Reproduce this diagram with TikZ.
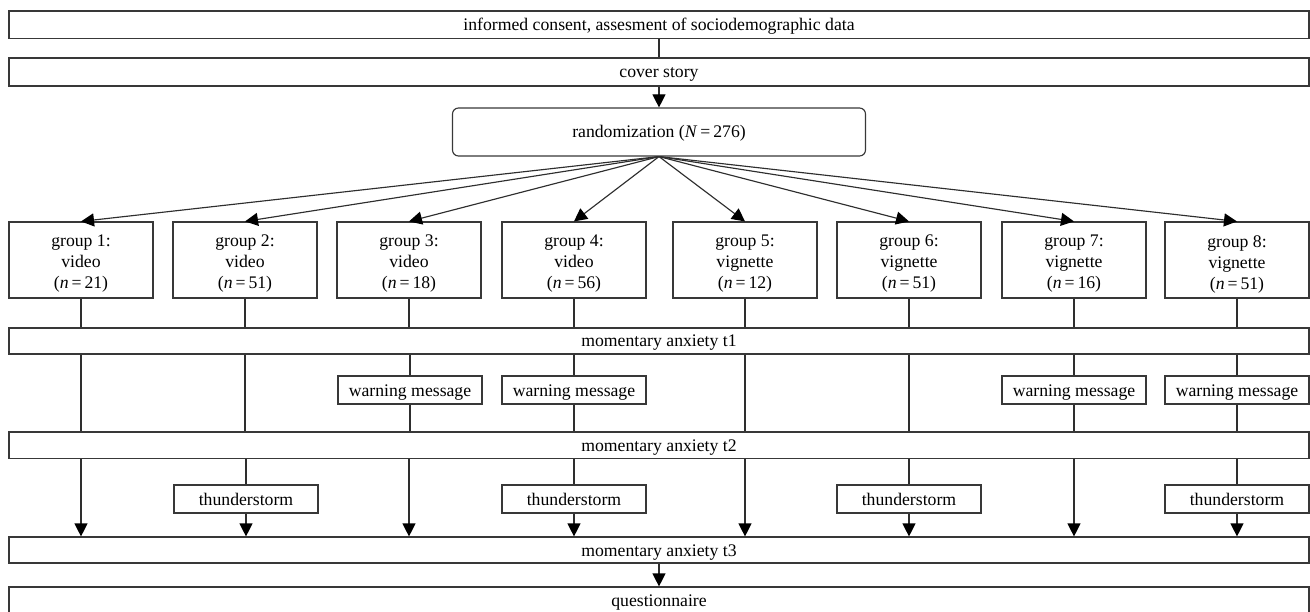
\documentclass[tikz,border=0pt]{standalone}
\usepackage{fontspec}
\setmainfont{Liberation Serif}
\usetikzlibrary{arrows.meta}
\begin{document}
\begin{tikzpicture}[x=1pt,y=-1pt,
  every node/.style={font=\fontsize{17.7}{21}\selectfont, text=black},
  box/.style={draw=black!78, line width=1.15pt, rectangle, inner sep=0pt, align=center, text height=12pt, text depth=0pt},
  bar/.style={box, minimum width=1300pt},
  grp/.style={draw=black!78, line width=1.15pt, rectangle, inner sep=0pt, minimum width=144pt, minimum height=76pt},
  gl/.style={align=center, inner sep=0pt, yshift=-4pt},
  sub/.style={box, minimum width=144pt, minimum height=28pt},
  conn/.style={draw=black!82, line width=1.15pt},
  arr/.style={conn, -{Triangle[width=13pt,length=13pt,color=black]}}]
\useasboundingbox (0,0) rectangle (1310,612);

\node[bar, minimum height=27.7pt] (top) at (659,24.85) {informed consent, assesment of sociodemographic data};
\node[bar, minimum height=28pt] (cover) at (659,72) {cover story};
\node[box, minimum width=413pt, minimum height=48pt, rounded corners=6pt] (rand) at (659,132) {randomization (\textit{N}\,=\,276)};

\node[grp, label={[gl]center:{group 1:\\video\\(\textit{n}\,=\,21)}}] (g1) at (81,260) {};
\node[grp, label={[gl]center:{group 2:\\video\\(\textit{n}\,=\,51)}}] (g2) at (245,260) {};
\node[grp, label={[gl]center:{group 3:\\video\\(\textit{n}\,=\,18)}}] (g3) at (409,260) {};
\node[grp, label={[gl]center:{group 4:\\video\\(\textit{n}\,=\,56)}}] (g4) at (574,260) {};
\node[grp, label={[gl]center:{group 5:\\vignette\\(\textit{n}\,=\,12)}}] (g5) at (745,260) {};
\node[grp, label={[gl]center:{group 6:\\vignette\\(\textit{n}\,=\,51)}}] (g6) at (909,260) {};
\node[grp, label={[gl]center:{group 7:\\vignette\\(\textit{n}\,=\,16)}}] (g7) at (1074,260) {};
\node[grp, label={[gl]center:{group 8:\\vignette\\(\textit{n}\,=\,51)}}] (g8) at (1237,260) {};

\node[bar, minimum height=26pt] (t1) at (659,341) {momentary anxiety t1};
\node[bar, minimum height=26.5pt] (t2) at (659,445.25) {momentary anxiety t2};
\node[bar, minimum height=26pt] (t3) at (659,550) {momentary anxiety t3};
\node[bar, minimum height=26pt] (q) at (659,600) {questionnaire};

\node[sub] (w3) at (410,390) {warning message};
\node[sub] (w4) at (574,390) {warning message};
\node[sub] (w7) at (1074,390) {warning message};
\node[sub] (w8) at (1237,390) {warning message};

\node[sub] (s2) at (246,499) {thunderstorm};
\node[sub] (s4) at (574,499) {thunderstorm};
\node[sub] (s6) at (909,499) {thunderstorm};
\node[sub] (s8) at (1237,499) {thunderstorm};

\draw[conn] (top.south) -- (cover.north);
\draw[arr] (cover.south) -- (rand.north);
\foreach \i in {1,...,8} {
  \draw[arr] (rand.south) -- (g\i.north);
  \draw[conn] (g\i.south) -- (g\i.south |- t1.north);
}
% t1 -> t2
\foreach \i in {1,2,5,6} {
  \draw[conn] (g\i.south |- t1.south) -- (g\i.south |- t2.north);
}
\foreach \i in {3,4,7,8} {
  \draw[conn] (w\i.north |- t1.south) -- (w\i.north);
  \draw[conn] (w\i.south) -- (w\i.south |- t2.north);
}
% t2 -> t3
\foreach \i in {1,3,5,7} {
  \draw[arr] (g\i.south |- t2.south) -- (g\i.south |- t3.north);
}
\foreach \i in {2,4,6,8} {
  \draw[conn] (s\i.north |- t2.south) -- (s\i.north);
  \draw[arr] (s\i.south) -- (s\i.south |- t3.north);
}
\draw[arr] (t3.south) -- (q.north);
\end{tikzpicture}
\end{document}
